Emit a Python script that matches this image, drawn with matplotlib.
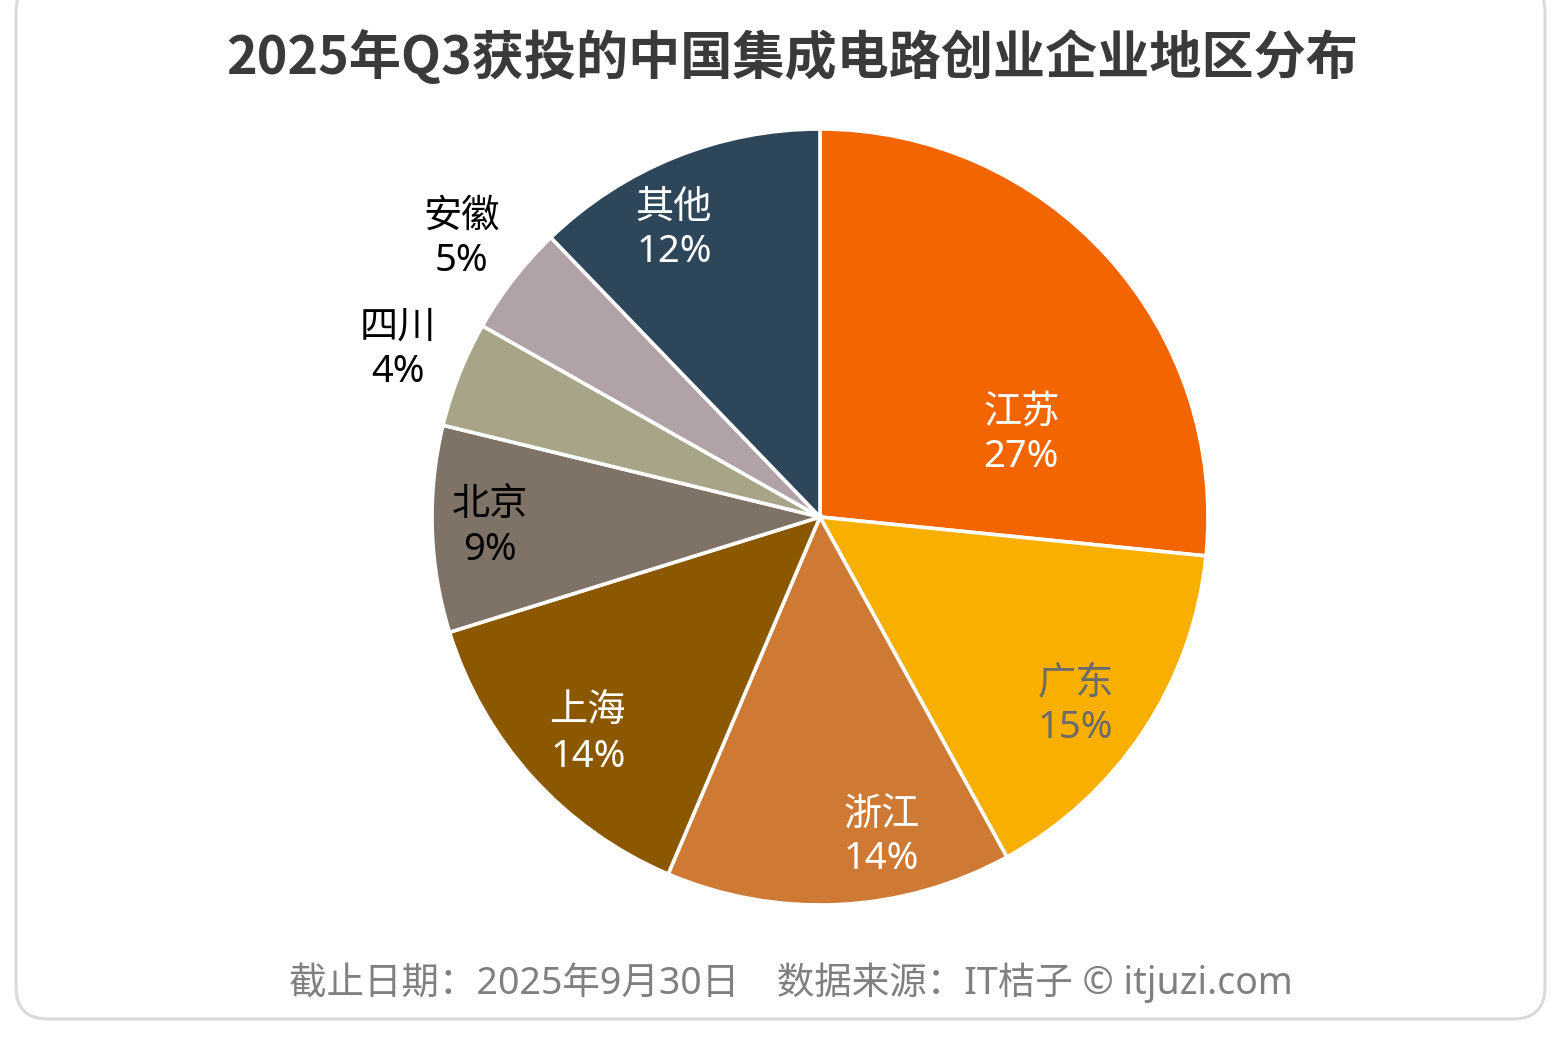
import matplotlib

matplotlib.use("Agg")

import matplotlib.pyplot as plt  # noqa: E402
import numpy as np  # noqa: E402
from matplotlib.patches import FancyBboxPatch  # noqa: E402

plt.rcParams["font.family"] = ["Noto Sans", "Noto Sans CJK SC", "DejaVu Sans"]

# ---------------------------------------------------------------- data
REGIONS = ["江苏", "广东", "浙江", "上海", "北京", "四川", "安徽", "其他"]
SHARES = [26.6, 15.4, 14.4, 13.8, 8.6, 4.4, 4.6, 12.2]
COLORS = ["#F26500", "#F9AF00", "#CE7A35", "#8B5800",
          "#7E7366", "#A8A487", "#B1A2A7", "#2E4659"]
LABEL_COLORS = ["white", "#6B6B6B", "white", "white",
                "black", "black", "black", "white"]
# label radius (in pie radii) and angular nudge (deg) per wedge
LABEL_R = [0.56, 0.82, 0.84, 0.82, 0.85, 1.17, 1.17, 0.83]
LABEL_DANG = [-20, -3, 8, 1, 0, 0, 0, 5]

TITLE = "2025年Q3获投的中国集成电路创业企业地区分布"
FOOTER = "截止日期：2025年9月30日　数据来源：IT桔子 © itjuzi.com"

W, H = 1561, 1045
fig = plt.figure(figsize=(W / 100, H / 100), dpi=100)

# rounded frame
frame = fig.add_axes([0, 0, 1, 1])
frame.set_xlim(0, W)
frame.set_ylim(H, 0)
frame.axis("off")
frame.add_patch(FancyBboxPatch((16, -20), W - 32, H - 6, boxstyle="round,pad=0,rounding_size=32",
                               fc="white", ec="#DADADA", lw=2.2))

# pie axes
R_PX = 388
cx, cy = 820, 517
half = 420
ax = fig.add_axes([(cx - half) / W, 1 - (cy + half) / H, 2 * half / W, 2 * half / H])

wedges, _ = ax.pie(SHARES, colors=COLORS, startangle=90, counterclock=False,
                   wedgeprops=dict(edgecolor="white", linewidth=2.6))
lim = half / R_PX
ax.set_xlim(-lim, lim)
ax.set_ylim(-lim, lim)
ax.set_aspect("equal")
ax.axis("off")

total = sum(SHARES)
for w, name, v, c, r, da in zip(wedges, REGIONS, SHARES, LABEL_COLORS, LABEL_R, LABEL_DANG):
    mid = np.deg2rad((w.theta1 + w.theta2) / 2 + da)
    ax.text(r * np.cos(mid), r * np.sin(mid), f"{name}\n{round(v / total * 100)}%",
            ha="center", va="center", fontsize=27.5, color=c, linespacing=1.22)

fig.text(792 / W, 1 - 58 / H, TITLE, ha="center", va="center", fontsize=37.5,
         fontweight="bold", color="#3A3A3A", family=["Noto Sans CJK SC", "DejaVu Sans"])
fig.text(791 / W, 1 - 983 / H, FOOTER, ha="center", va="center", fontsize=27,
         color="#808080")

fig.savefig("out.png", dpi=100)
